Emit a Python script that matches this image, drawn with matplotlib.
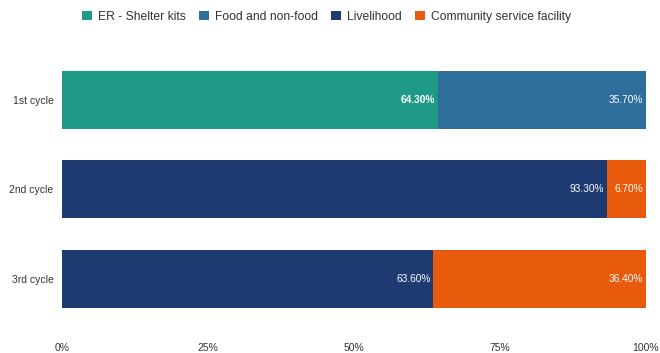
import matplotlib
matplotlib.use("Agg")
import matplotlib.pyplot as plt
import numpy as np

plt.rcParams["font.family"] = ["Liberation Sans", "DejaVu Sans"]

cycles = ["1st cycle", "2nd cycle", "3rd cycle"]
series = ["ER - Shelter kits", "Food and non-food", "Livelihood", "Community service facility"]
shelter = [64.3, 0.0, 0.0]
food = [35.7, 0.0, 0.0]
livelihood = [0.0, 93.3, 63.6]
community = [0.0, 6.7, 36.4]
colors = ["#1f9a86", "#2d6e9c", "#1f3a70", "#e85a0c"]
xticks = [0, 25, 50, 75, 100]
xtick_labels = ["0%", "25%", "50%", "75%", "100%"]

fig = plt.figure(figsize=(6.6, 3.53), dpi=100)
ax = fig.add_axes([62 / 660, 17 / 353, 584 / 660, 297 / 353])

y = np.arange(len(cycles))
left = np.zeros(len(cycles))
for name, vals, col in zip(series, [shelter, food, livelihood, community], colors):
    vals = np.array(vals)
    ax.barh(y, vals, left=left, color=col, height=0.65, label=name)
    for i, v in enumerate(vals):
        if v > 0:
            bold = (name == "ER - Shelter kits")
            ax.text(left[i] + v - 0.5, y[i], f"{v:.2f}%", ha="right", va="center",
                    color="white", fontsize=7.3,
                    fontweight="bold" if bold else "normal")
    left += vals

ax.set_xlim(0, 100)
ax.set_ylim(2.64, -0.68)
ax.set_yticks(y)
ax.set_yticklabels(cycles, fontsize=7.5, color="#333333")
ax.set_xticks(xticks)
ax.set_xticklabels(xtick_labels, fontsize=7.5, color="#333333")
ax.tick_params(length=0, pad=5)
ax.tick_params(axis="y", pad=6)
for s in ax.spines.values():
    s.set_visible(False)

fig.legend(loc="upper center", bbox_to_anchor=(0.495, 1.0), ncol=4, frameon=False,
           fontsize=8.7, handlelength=0.8, handleheight=0.8, handletextpad=0.5,
           columnspacing=1.1, labelcolor="#333333")

fig.savefig("out.png", dpi=100)
